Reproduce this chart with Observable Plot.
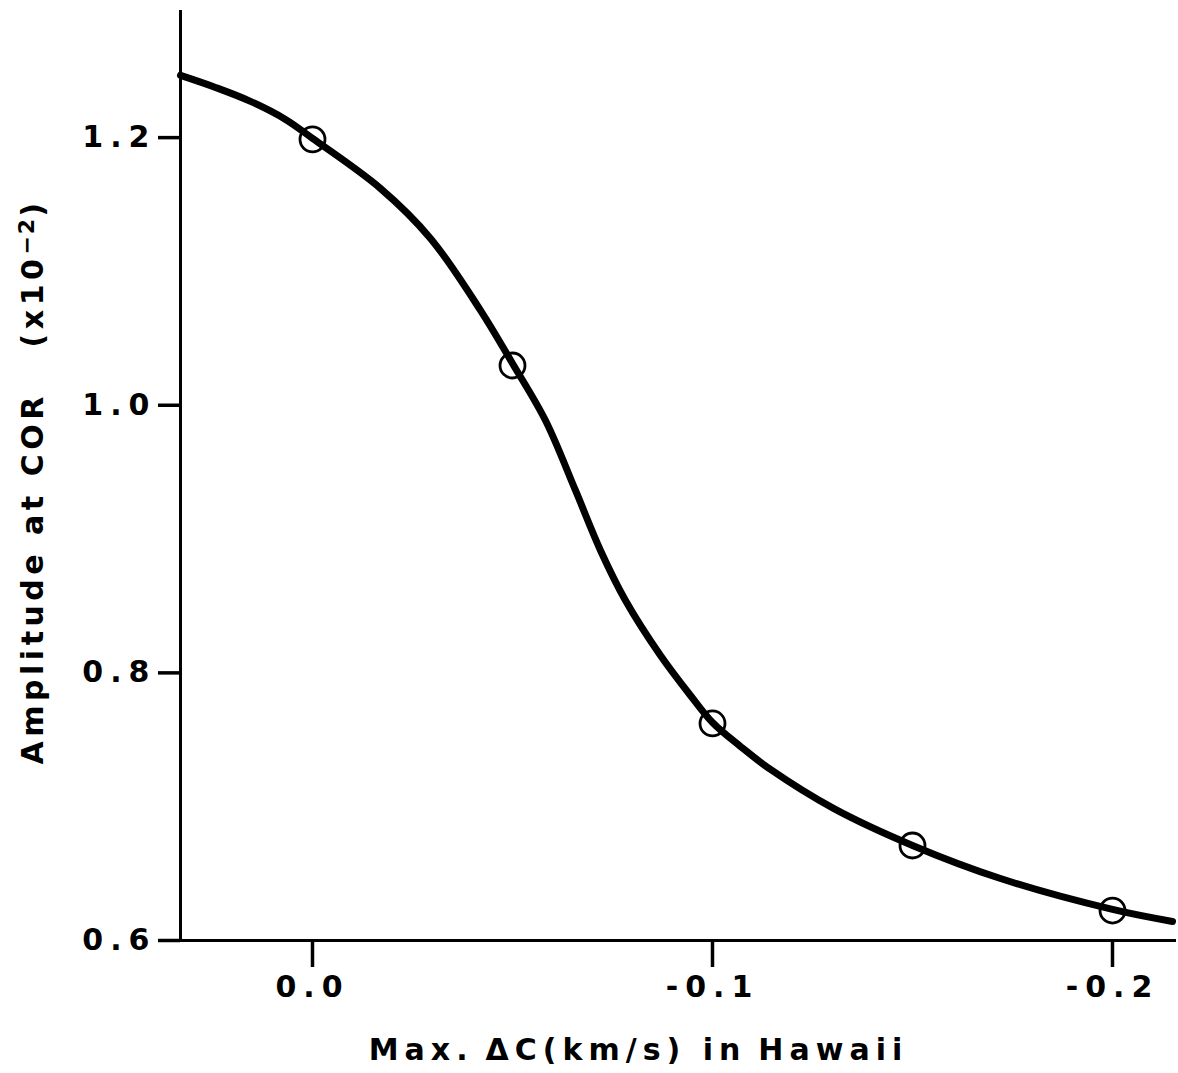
<!DOCTYPE html>
<html>
<head>
<meta charset="utf-8">
<script src="https://cdn.jsdelivr.net/npm/d3@7"></script>
<script src="https://cdn.jsdelivr.net/npm/@observablehq/plot@0.6"></script>
<style>
  html, body { margin: 0; padding: 0; background: #fff; }
  #chart svg { display: block; }
</style>
</head>
<body>
<div id="chart"></div>
<script>
// Measured points (circles)
const pointX = [0, -0.05, -0.1, -0.15, -0.2];
const pointY = [1.1987, 1.0297, 0.7622, 0.671, 0.6224];

// Smooth curve
const curveX = [0.033, 0.02425, 0.0155, 0.00675, 0, -0.017, -0.0295, -0.042, -0.05, -0.05825, -0.06575, -0.072, -0.07825, -0.087, -0.0945, -0.1, -0.107, -0.1145, -0.13025, -0.15, -0.172, -0.2, -0.215];
const curveY = [1.2465, 1.2375, 1.2271, 1.2136, 1.1994, 1.162, 1.1247, 1.0709, 1.0312, 0.9886, 0.9363, 0.8915, 0.8541, 0.813, 0.7831, 0.7629, 0.745, 0.7278, 0.6987, 0.671, 0.6463, 0.6232, 0.6142];

// Axes
const xDomain = [0.033, -0.216];
const yDomain = [0.6, 1.295];
const xTicks = [0, -0.1, -0.2];
const yTicks = [0.6, 0.8, 1.0, 1.2];
const xTitle = "Max.\u2009\u0394C(km/s) in\u2009Hawaii";
const yTitleMain = "Amplitude at COR\u00a0\u00a0\u00a0(x10";
const yTitleSup = "\u22122";
const yTitleEnd = ")";
const yTitle = yTitleMain + "\u207b\u00b2" + yTitleEnd;

const points = pointX.map((x, i) => ({x, y: pointY[i]}));
const curve = curveX.map((x, i) => ({x, y: curveY[i]}));

const fmt = d => (d < 0 ? "-" : "") + Math.abs(d).toFixed(1);
const FONT = "'DejaVu Sans', 'Liberation Sans', Arial, sans-serif";

const chart = Plot.plot({
  width: 1178,
  height: 1073,
  marginLeft: 180,
  marginRight: 2,
  marginTop: 10,
  marginBottom: 133,
  style: {
    fontFamily: FONT,
    fontWeight: "bold",
    fontSize: "30px",
    color: "#000",
    background: "#fff",
    overflow: "visible"
  },
  x: {domain: xDomain, ticks: xTicks, tickFormat: fmt, tickSize: 27, tickPadding: 8, label: null},
  y: {domain: yDomain, ticks: yTicks, tickFormat: fmt, tickSize: 22, tickPadding: 2, label: null},
  marks: [
    Plot.ruleX([xDomain[0]], {y1: yDomain[0], y2: yDomain[1], stroke: "#000", strokeWidth: 3}),
    Plot.ruleY([yDomain[0]], {x1: xDomain[0], x2: xDomain[1], stroke: "#000", strokeWidth: 3}),
    Plot.line(curve, {x: "x", y: "y", curve: "catmull-rom", stroke: "#000", strokeWidth: 7, strokeLinecap: "round", strokeLinejoin: "round"}),
    Plot.dot(points, {x: "x", y: "y", r: 12.5, stroke: "#000", strokeWidth: 2.8, fill: "none"}),
    Plot.text([xTitle], {frameAnchor: "bottom", textAnchor: "middle", dx: -40, dy: 110, lineAnchor: "middle", fontSize: 30, fill: "#000"}),
    Plot.text([yTitle], {frameAnchor: "left", textAnchor: "middle", dx: -147, dy: 6, rotate: -90, lineAnchor: "middle", fontSize: 30, fill: "#000"})
  ]
});

const svg = d3.select(chart);
svg.selectAll('g[aria-label*="axis"] path, g[aria-label*="axis"] line').attr("stroke-width", 3.5).attr("stroke", "#000");
svg.selectAll('g[aria-label*="axis"]').attr("font-size", "30px");
svg.selectAll('g[aria-label*="axis"] text').attr("fill", "#000").style("font-size", "30px").style("letter-spacing", "7px");
const titles = svg.selectAll('g[aria-label="text"]').nodes();
if (titles[0]) d3.select(titles[0]).style("letter-spacing", "6px");
if (titles[1]) {
  const g = d3.select(titles[1]).style("letter-spacing", "4.5px");
  const t = g.select("text");
  t.text(null);
  t.append("tspan").text(yTitleMain);
  t.append("tspan").attr("dy", "-0.4em").style("font-size", "22px").style("letter-spacing", "2px").text(yTitleSup);
  t.append("tspan").attr("dy", "0.29em").text(yTitleEnd);
}
document.getElementById("chart").appendChild(chart);
</script>
</body>
</html>
